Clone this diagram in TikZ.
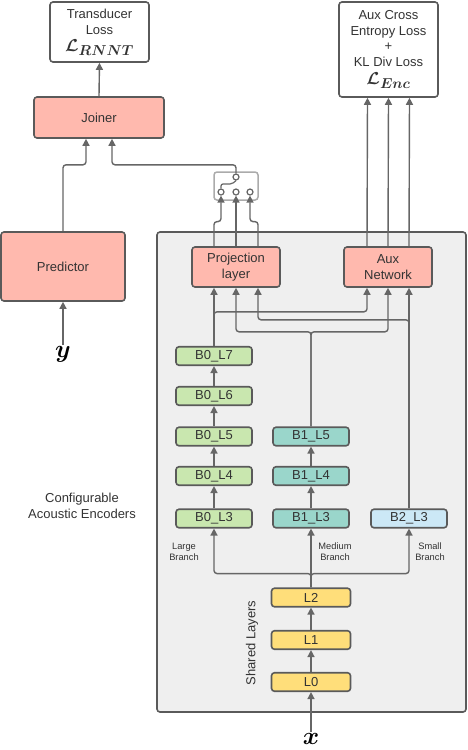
\documentclass[tikz,border=0pt]{standalone}
\usepackage{bm}
\usepackage{fontspec}
\setmainfont{Liberation Sans}
\usetikzlibrary{arrows.meta}
\definecolor{edge}{HTML}{5A5A5A}
\definecolor{wire}{HTML}{666666}
\definecolor{ink}{HTML}{333333}
\definecolor{salmon}{HTML}{FFB9AE}
\definecolor{leaf}{HTML}{C9E7AF}
\definecolor{sea}{HTML}{9AD6CB}
\definecolor{sky}{HTML}{CCE8F6}
\definecolor{sand}{HTML}{FFDE7A}
\definecolor{panel}{HTML}{EFEFEF}
\tikzset{
    box/.style={draw=edge, line width=1.6pt, rounded corners=3pt, inner sep=0, text=ink, align=center},
    block/.style={box, fill=salmon, minimum width=88pt, minimum height=40pt},
    loss/.style={box, fill=white, minimum width=99pt},
    layer/.style={box, minimum width=76pt, minimum height=18.5pt},
    b0/.style={layer, fill=leaf},
    b1/.style={layer, fill=sea},
    b2/.style={layer, fill=sky},
    shared/.style={layer, fill=sand, minimum width=79pt},
    switch/.style={draw=black!33, line width=1.5pt, rounded corners=3pt, fill=white, minimum width=44pt, minimum height=28pt},
    term/.style={circle, draw=wire, fill=white, line width=1.2pt, minimum size=6pt, inner sep=0},
    arr/.style={draw=wire, line width=1.4pt, rounded corners=3pt, -{Triangle[length=7pt,width=7pt]}},
    lever/.style={draw=wire, line width=1.2pt, rounded corners=2pt},
    note/.style={text=ink, align=center, inner sep=0},
    small/.style={note, font=\fontsize{9.3}{11}\selectfont},
    var/.style={text=black, inner sep=1pt, font=\fontsize{28}{30}\selectfont}
}

\begin{document}
\begin{tikzpicture}[x=1pt, y=-1pt, font=\fontsize{13}{16}\selectfont]
    \useasboundingbox (0,0) rectangle (468,750);
    % encoder panel
    \draw[draw=edge, fill=panel, line width=1.6pt, rounded corners=3pt] (157,232) rectangle (466,712);

    % losses, joiner and predictor
    \node[loss, minimum height=60pt] (tloss) at (99.5,32)
        {Transducer\\Loss\\[1pt]{\fontsize{19}{20}\selectfont$\bm{\mathcal{L}_{RNNT}}$}};
    \node[loss, minimum height=95pt, font=\fontsize{13}{15.5}\selectfont] (closs) at (388.5,49.5)
        {Aux Cross\\Entropy Loss\\+\\KL Div Loss\\[3pt]{\fontsize{19}{20}\selectfont$\bm{\mathcal{L}_{Enc}}$}};
    \node[block, minimum width=130pt, minimum height=41pt] (join) at (99,117.5) {Joiner};
    \node[block, minimum width=124pt, minimum height=69pt] (pred) at (63,266.5) {Predictor};
    \node[var] (ylab) at (63,354) {$\bm{y}$};

    % switch
    \node[switch] (sw) at (236,186) {};
    \node[term] (t0) at (236,177) {};
    \node[term] (t1) at (221,192) {};
    \node[term] (t2) at (236,192) {};
    \node[term] (t3) at (250,192) {};
    \draw[lever] (t1.north) |- (232,184) -- (t0.south);

    % encoder heads
    \node[block] (proj) at (236,267) {Projection\\layer};
    \node[block] (aux) at (388,267) {Aux\\Network};

    % branches
    \node[b0] (b07) at (214,356) {B0\_L7};
    \node[b0] (b06) at (214,396) {B0\_L6};
    \node[b0] (b05) at (214,436.5) {B0\_L5};
    \node[b0] (b04) at (214,476) {B0\_L4};
    \node[b0] (b03) at (214,518.5) {B0\_L3};
    \node[b1] (b15) at (311,436.5) {B1\_L5};
    \node[b1] (b14) at (311,476) {B1\_L4};
    \node[b1] (b13) at (311,518.5) {B1\_L3};
    \node[b2] (b23) at (409,518.5) {B2\_L3};
    \node[small] (lbr) at (184,551.5) {Large\\Branch};
    \node[small] (mbr) at (335,551.5) {Medium\\Branch};
    \node[small] (sbr) at (430,551.5) {Small\\Branch};

    % shared layers
    \node[shared] (l2) at (311,597.5) {L2};
    \node[shared] (l1) at (311,640) {L1};
    \node[shared] (l0) at (311,682) {L0};
    \node[note, rotate=90] (slab) at (252,643) {Shared Layers};
    \node[var] (xlab) at (311,739) {$\bm{x}$};
    \node[note] (enclab) at (82,506) {Configurable\\Acoustic Encoders};

    % connectors
    \draw[arr] (join.north) -- (tloss.south);
    \draw[arr] (pred.north) |- ([xshift=-13pt,yshift=-26pt]join.south) -- ([xshift=-13pt]join.south);
    \draw[arr] (t0.north) |- ([xshift=13pt,yshift=-26pt]join.south) -- ([xshift=13pt]join.south);
    \draw[arr] (ylab) -- (pred.south);

    \draw[arr] ([xshift=-22pt]proj.north) |- ([yshift=-26pt]t1.south) -- (t1.south);
    \draw[arr] (proj.north) -- (t2.south);
    \draw[arr] ([xshift=22pt]proj.north) |- ([yshift=-26pt]t3.south) -- (t3.south);
    \foreach \d in {-21,0,21}
        \draw[arr] ([xshift=\d pt]aux.north) -- ([xshift=\d pt]closs.south);

    \draw[arr] (b07.north) -- ([xshift=-22pt]proj.south);
    \draw[arr] (b07.north) |- ([xshift=-21pt,yshift=-24pt]aux.south) -- ([xshift=-21pt]aux.south);
    \draw[arr] (b15.north) |- ([yshift=-44pt]proj.south) -- (proj.south);
    \draw[arr] (b15.north) |- ([yshift=-44pt]aux.south) -- (aux.south);
    \draw[arr] (b23.north) -- ([xshift=21pt]aux.south);
    \draw[arr] (b23.north) |- ([xshift=22pt,yshift=-32pt]proj.south) -- ([xshift=22pt]proj.south);

    \draw[arr] (b03) -- (b04);
    \draw[arr] (b04) -- (b05);
    \draw[arr] (b05) -- (b06);
    \draw[arr] (b06) -- (b07);
    \draw[arr] (b13) -- (b14);
    \draw[arr] (b14) -- (b15);

    \foreach \b in {b03,b13,b23}
        \draw[arr] (l2.north) |- ([yshift=-45pt]\b.south) -- (\b.south);
    \draw[arr] (l1) -- (l2);
    \draw[arr] (l0) -- (l1);
    \draw[arr] (xlab) -- (l0);
\end{tikzpicture}
\end{document}
